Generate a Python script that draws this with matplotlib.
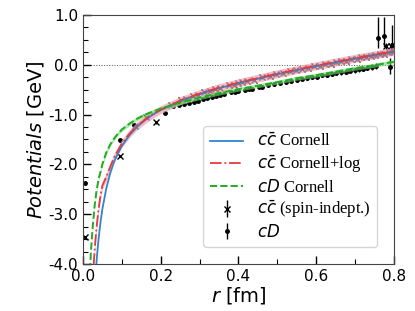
import matplotlib
matplotlib.use("Agg")
import matplotlib.pyplot as plt
from matplotlib.ticker import MultipleLocator, FormatStrFormatter

plt.rcParams['axes.unicode_minus'] = False
plt.rcParams['mathtext.fontset'] = 'dejavusans'

# ---- fitted curves ----
r_blue = [0.030, 0.0326, 0.036, 0.040, 0.045, 0.050, 0.060, 0.070, 0.080, 0.090, 0.100,
          0.120, 0.140, 0.160, 0.180, 0.200, 0.250, 0.300, 0.350, 0.400, 0.450, 0.500,
          0.550, 0.600, 0.650, 0.700, 0.750, 0.800]
v_blue = [-4.51, -4.19, -3.84, -3.50, -3.16, -2.89, -2.48, -2.18, -1.95, -1.78, -1.63,
          -1.41, -1.24, -1.11, -1.00, -0.91, -0.73, -0.59, -0.47, -0.37, -0.28, -0.19,
          -0.11, -0.03, 0.045, 0.12, 0.19, 0.26]

r_red = [0.025, 0.0275, 0.030, 0.0326, 0.036, 0.040, 0.045, 0.050, 0.060, 0.070, 0.080,
         0.090, 0.100, 0.120, 0.140, 0.160, 0.180, 0.200, 0.250, 0.300, 0.350, 0.400,
         0.450, 0.500, 0.550, 0.600, 0.650, 0.700, 0.750, 0.800]
v_red = [-4.40, -4.00, -3.72, -3.46, -3.18, -2.90, -2.62, -2.42, -2.25, -2.05, -1.86,
         -1.72, -1.58, -1.38, -1.22, -1.10, -0.99, -0.90, -0.72, -0.58, -0.46, -0.36,
         -0.27, -0.18, -0.10, -0.02, 0.055, 0.13, 0.20, 0.27]

r_green = [0.017, 0.020, 0.025, 0.030, 0.035, 0.040, 0.050, 0.060, 0.070, 0.080, 0.090,
           0.100, 0.120, 0.140, 0.160, 0.180, 0.200, 0.250, 0.300, 0.350, 0.400, 0.450,
           0.500, 0.550, 0.600, 0.650, 0.700, 0.750, 0.800]
v_green = [-4.33, -3.80, -3.25, -2.82, -2.52, -2.30, -1.99, -1.76, -1.60, -1.48, -1.38,
           -1.30, -1.18, -1.08, -1.00, -0.94, -0.88, -0.76, -0.66, -0.57, -0.49, -0.42,
           -0.35, -0.27, -0.21, -0.14, -0.07, -0.01, 0.06]

band_cc = 0.08
band_cd = 0.04

# ---- lattice data: c cbar (spin-independent) ----
r_cc = [0.005, 0.094, 0.133, 0.163, 0.188, 0.226, 0.252, 0.266, 0.282, 0.297, 0.312,
        0.326, 0.339, 0.352, 0.376, 0.388, 0.399, 0.410, 0.421, 0.441, 0.461, 0.480,
        0.498, 0.515, 0.532, 0.548, 0.564, 0.580, 0.595, 0.610, 0.624, 0.638, 0.652,
        0.665, 0.678, 0.691, 0.704, 0.716, 0.729, 0.741, 0.752, 0.764, 0.775, 0.781,
        0.787, 0.792, 0.798]
v_cc = [-3.46, -1.83, -1.22, -1.05, -1.15, -0.80, -0.71, -0.69, -0.63, -0.60, -0.55,
        -0.53, -0.49, -0.47, -0.41, -0.40, -0.36, -0.35, -0.32, -0.30, -0.25, -0.23,
        -0.19, -0.17, -0.13, -0.11, -0.08, -0.07, -0.03, -0.02, 0.01, 0.02, 0.05,
        0.07, 0.08, 0.11, 0.12, 0.15, 0.16, 0.18, 0.19, 0.22, 0.22, 0.38,
        0.25, 0.38, 0.26]
e_cc = [0.03, 0.02, 0.02, 0.02, 0.03, 0.02, 0.02, 0.02, 0.02, 0.02, 0.02,
        0.02, 0.02, 0.02, 0.02, 0.02, 0.02, 0.02, 0.02, 0.02, 0.03, 0.03,
        0.03, 0.03, 0.03, 0.03, 0.03, 0.03, 0.03, 0.04, 0.04, 0.04, 0.04,
        0.04, 0.04, 0.04, 0.05, 0.05, 0.05, 0.05, 0.05, 0.05, 0.05, 0.06,
        0.05, 0.06, 0.05]

# ---- lattice data: cD ----
r_cd = [0.005, 0.095, 0.132, 0.211, 0.232, 0.246, 0.260, 0.273, 0.285, 0.297, 0.309,
        0.320, 0.331, 0.342, 0.352, 0.362, 0.381, 0.391, 0.400, 0.418, 0.427, 0.436,
        0.452, 0.461, 0.477, 0.492, 0.507, 0.522, 0.536, 0.550, 0.563, 0.577, 0.590,
        0.603, 0.615, 0.628, 0.640, 0.652, 0.664, 0.676, 0.687, 0.699, 0.710, 0.721,
        0.732, 0.743, 0.753, 0.758, 0.774, 0.790, 0.796]
v_cd = [-2.38, -1.51, -1.20, -0.97, -0.83, -0.80, -0.79, -0.77, -0.75, -0.72, -0.68,
        -0.67, -0.64, -0.63, -0.60, -0.59, -0.55, -0.55, -0.52, -0.50, -0.48, -0.48,
        -0.44, -0.44, -0.40, -0.39, -0.36, -0.35, -0.32, -0.31, -0.28, -0.27, -0.25,
        -0.24, -0.21, -0.20, -0.18, -0.17, -0.15, -0.14, -0.12, -0.11, -0.09, -0.08,
        -0.06, -0.05, -0.03, 0.54, 0.58, -0.04, 0.40]
elo_cd = [0.03, 0.02, 0.02, 0.02, 0.02, 0.02, 0.02, 0.02, 0.02, 0.02, 0.02,
          0.02, 0.02, 0.02, 0.02, 0.02, 0.02, 0.02, 0.02, 0.03, 0.03, 0.03,
          0.03, 0.03, 0.03, 0.03, 0.03, 0.03, 0.03, 0.03, 0.03, 0.04, 0.04,
          0.04, 0.04, 0.04, 0.04, 0.04, 0.05, 0.05, 0.05, 0.05, 0.05, 0.05,
          0.05, 0.06, 0.06, 0.21, 0.22, 0.14, 0.16]
ehi_cd = [0.03, 0.02, 0.02, 0.02, 0.02, 0.02, 0.02, 0.02, 0.02, 0.02, 0.02,
          0.02, 0.02, 0.02, 0.02, 0.02, 0.02, 0.02, 0.02, 0.03, 0.03, 0.03,
          0.03, 0.03, 0.03, 0.03, 0.03, 0.03, 0.03, 0.03, 0.03, 0.04, 0.04,
          0.04, 0.04, 0.04, 0.04, 0.04, 0.05, 0.05, 0.05, 0.05, 0.05, 0.05,
          0.05, 0.06, 0.06, 0.41, 0.37, 0.18, 0.40]

labels = [r'$c\bar{c}$ Cornell', r'$c\bar{c}$ Cornell+log', r'$cD$ Cornell',
          r'$c\bar{c}$ (spin-indept.)', r'$cD$']

c_blue = '#2f86d0'
c_red = '#e8383b'
c_green = '#22aa22'

fig = plt.figure(figsize=(4.15, 3.11), dpi=100)
ax = fig.add_axes([0.2, 0.151, 0.749, 0.801])

h_cc = ax.errorbar(r_cc, v_cc, yerr=e_cc, fmt='x', color='black', ms=4.5, mew=1.0,
                   elinewidth=1.0, capsize=0, zorder=2)
h_cd = ax.errorbar(r_cd, v_cd, yerr=[elo_cd, ehi_cd], fmt='o', color='black', ms=2.5,
                   elinewidth=1.0, capsize=0, zorder=2)

v_red_lo = [v - band_cc for v in v_red]
v_red_hi = [v + band_cc for v in v_red]
v_green_lo = [v - band_cd for v in v_green]
v_green_hi = [v + band_cd for v in v_green]
ax.fill_between(r_red, v_red_lo, v_red_hi, color='#f0a0b0', alpha=0.7, lw=0, zorder=3)
ax.fill_between(r_green, v_green_lo, v_green_hi, color='#77dd77', alpha=0.6, lw=0, zorder=3)

h_b, = ax.plot(r_blue, v_blue, '-', color=c_blue, lw=1.3, zorder=4)
h_r, = ax.plot(r_red, v_red, '-.', color=c_red, lw=1.3, zorder=5)
h_g, = ax.plot(r_green, v_green, '--', color=c_green, lw=1.4, zorder=5)

ax.axhline(0.0, color='#555555', lw=0.7, ls=':', zorder=1)

ax.set_xlim(0.0, 0.8)
ax.set_ylim(-4.0, 1.0)
ax.xaxis.set_major_locator(MultipleLocator(0.2))
ax.xaxis.set_minor_locator(MultipleLocator(0.1))
ax.yaxis.set_major_locator(MultipleLocator(1.0))
ax.yaxis.set_minor_locator(MultipleLocator(0.25))
ax.xaxis.set_major_formatter(FormatStrFormatter('%.1f'))
ax.yaxis.set_major_formatter(FormatStrFormatter('%.1f'))
ax.tick_params(which='both', direction='in', top=False, right=False, labelsize=11)
ax.tick_params(which='major', length=6, width=1.0)
ax.tick_params(which='minor', length=3.5, width=0.8)
for s in ax.spines.values():
    s.set_color('#444444')

ax.set_xlabel(r'$r$ [fm]', fontsize=14, labelpad=1)
ax.set_ylabel(r'$Potentials$ [GeV]', fontsize=14, labelpad=2)

leg = ax.legend([h_b, h_r, h_g, h_cc, h_cd], labels, loc='lower right',
                prop={'family': 'Liberation Serif', 'size': 12},
                labelspacing=0.2, borderaxespad=1.0, handlelength=2.0,
                fancybox=True, framealpha=0.8)

fig.savefig('out.png', dpi=100)
